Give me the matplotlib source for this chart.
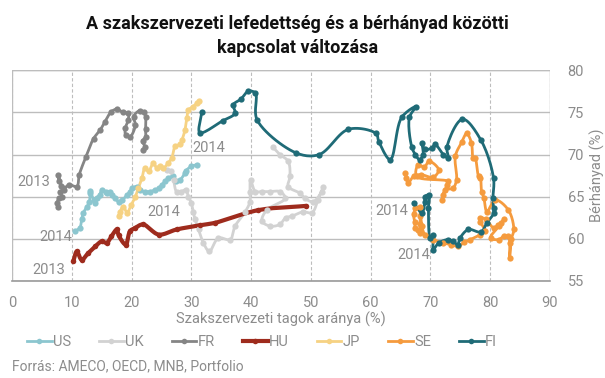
import numpy as np
import matplotlib
matplotlib.use("Agg")
import matplotlib.pyplot as plt
from matplotlib.lines import Line2D

plt.rcParams['font.family'] = ['Roboto', 'DejaVu Sans']

# --- data (x: union density %, y: wage share %) ---
us_x = [10.5, 11.3, 11.6, 11.9, 12.5, 12.9, 13.0, 13.0, 13.6, 13.9, 14.1, 14.6, 15.0, 15.6, 15.9, 16.4,
        16.7, 17.2, 17.8, 18.4, 19.2, 19.7, 20.0, 20.8, 21.3, 22.2, 23.0, 23.9, 24.5, 25.0, 25.6, 26.1,
        26.9, 27.4, 28.1, 28.9, 29.1, 30.0, 30.9]
us_y = [60.9, 61.3, 62.3, 63.1, 63.8, 64.4, 65.4, 65.7, 64.6, 64.2, 64.8, 65.2, 65.8, 65.6, 65.4, 65.6,
        65.2, 64.8, 64.4, 64.6, 65.2, 65.6, 66.0, 66.2, 65.8, 65.6, 65.6, 65.8, 66.0, 66.4, 66.8, 67.2,
        67.4, 66.8, 67.0, 67.8, 68.1, 68.6, 68.8]

uk_x = [43.6, 44.8, 46.2, 46.5, 46.2, 48.2, 49.0, 50.4, 51.8, 52.1, 51.2, 50.2, 48.7, 46.9, 45.8, 44.8,
        43.2, 41.8, 42.6, 45.7, 44.8, 43.2, 41.8, 40.7, 39.9, 39.8, 39.8, 39.0, 37.3, 36.5, 34.5, 33.0,
        32.0, 31.2, 30.6, 30.3, 30.0, 29.5, 29.0, 28.3, 27.5, 27.0, 26.5, 25.9]
uk_y = [70.9, 70.0, 69.2, 67.4, 66.2, 65.4, 64.8, 64.4, 65.6, 66.2, 64.6, 63.1, 63.2, 62.7, 62.5, 61.7,
        61.5, 62.1, 63.4, 64.8, 65.6, 65.6, 65.6, 65.6, 67.0, 65.6, 64.4, 63.2, 61.5, 59.9, 60.1, 58.5,
        59.5, 61.1, 62.3, 63.2, 64.2, 65.0, 65.8, 65.6, 65.6, 67.0, 68.0, 68.2]

fr_x = [7.6, 7.5, 7.8, 8.3, 8.0, 8.6, 8.2, 7.8, 7.7, 8.5, 9.5, 10.8, 11.2, 12.3, 13.6, 14.7, 15.5, 16.6,
        17.6, 18.5, 19.4, 19.4, 18.9, 19.0, 19.7, 20.6, 20.3, 21.3, 22.0, 22.3, 22.3, 22.3, 21.8, 22.2, 21.9]
fr_y = [63.8, 64.3, 64.8, 65.0, 65.5, 65.8, 66.3, 66.8, 67.6, 66.0, 66.4, 66.2, 67.6, 69.7, 71.9, 72.9,
        73.9, 75.1, 75.4, 75.0, 74.9, 74.1, 73.1, 72.3, 72.1, 73.5, 74.5, 75.2, 75.0, 74.5, 73.0, 72.1,
        71.6, 70.9, 70.5]

hu_x = [49.2, 41.2, 34.0, 31.4, 27.5, 24.5, 21.9, 20.6, 19.7, 19.0, 17.8, 17.5, 16.6, 15.8, 15.0, 13.9,
        12.7, 11.6, 10.8, 10.2]
hu_y = [63.9, 63.4, 61.9, 61.6, 61.1, 60.5, 61.7, 61.3, 60.9, 59.3, 60.4, 61.1, 60.3, 59.5, 59.7, 59.1,
        58.3, 57.5, 58.5, 57.3]

jp_x = [17.8, 18.0, 18.6, 19.2, 19.9, 20.6, 21.1, 21.7, 22.2, 22.8, 23.6, 24.2, 24.7, 25.3, 26.1, 26.7,
        27.3, 28.1, 28.4, 28.9, 29.2, 29.5, 30.3, 30.9, 31.2]
jp_y = [62.7, 63.2, 63.8, 63.1, 64.0, 65.0, 66.0, 67.2, 68.4, 68.0, 69.0, 68.4, 68.6, 68.4, 69.0, 69.6,
        71.0, 71.2, 71.7, 72.9, 74.3, 75.3, 75.7, 76.1, 76.3]

se_x = [67.5, 67.2, 67.4, 67.5, 68.0, 68.3, 68.3, 68.3, 68.3, 68.6, 69.1, 70.5, 72.2, 73.5, 74.7, 75.7,
        76.7, 78.4, 79.2, 78.4, 78.4, 79.3, 80.6, 81.3, 81.9, 82.3, 81.5, 80.1, 81.5, 82.3, 83.1, 83.3,
        83.3, 83.6, 84.0, 83.1, 80.9, 79.5, 79.0, 78.6, 78.4, 78.1, 77.5, 77.2, 76.9, 76.1, 75.3, 74.2,
        74.4, 73.8, 72.5, 72.0, 72.2, 72.8, 73.0, 67.7, 68.0, 69.0, 69.8, 71.4, 70.5, 68.5, 67.2, 66.3,
        66.0, 65.8]
se_y = [63.6, 62.9, 62.0, 61.3, 61.0, 60.7, 61.8, 62.7, 63.8, 61.5, 60.5, 59.9, 59.5, 59.3, 59.1, 59.6,
        59.9, 60.5, 60.9, 62.0, 62.5, 62.3, 61.3, 61.6, 61.9, 62.3, 61.5, 60.1, 59.9, 60.3, 60.3, 59.5,
        57.7, 60.0, 61.1, 63.4, 64.6, 63.2, 64.8, 65.6, 67.2, 67.4, 69.6, 69.6, 71.4, 72.5, 71.5, 69.8,
        67.0, 66.0, 65.8, 64.6, 65.2, 66.4, 66.8, 67.4, 68.8, 68.5, 69.2, 68.2, 67.3, 67.6, 67.4, 66.6,
        67.2, 67.8]

fi_x = [31.7, 31.4, 35.2, 37.3, 37.0, 38.3, 39.5, 40.7, 41.0, 47.5, 51.4, 56.3, 60.9, 61.4, 63.3, 65.2,
        67.6, 66.5, 66.9, 67.5, 68.2, 68.8, 68.6, 69.1, 70.3, 70.8, 72.2, 73.0, 72.8, 75.4, 78.5, 80.6,
        80.5, 80.6, 80.6, 79.5, 78.5, 76.4, 75.0, 74.6, 73.8, 73.0, 71.4, 70.5, 70.5, 70.0, 69.7, 69.8,
        69.1, 69.1, 68.6, 67.2]
fi_y = [75.0, 72.6, 74.0, 74.9, 75.9, 76.6, 77.5, 77.3, 74.1, 70.2, 70.0, 73.0, 72.5, 71.5, 69.4, 74.4,
        75.7, 74.4, 70.9, 70.0, 69.4, 70.0, 71.4, 70.6, 70.8, 71.2, 70.0, 69.6, 70.9, 74.2, 71.7, 67.2,
        64.8, 63.6, 63.0, 61.9, 60.8, 61.1, 60.1, 59.3, 59.7, 59.9, 59.5, 58.7, 60.5, 60.1, 63.6, 65.2,
        65.0, 64.4, 63.1, 64.3]

series = [
    ("US", us_x, us_y, "#8cc6cf", 2.0, 4.5),
    ("UK", uk_x, uk_y, "#d2d2d2", 2.0, 4.5),
    ("FR", fr_x, fr_y, "#858585", 2.0, 4.5),
    ("HU", hu_x, hu_y, "#9e2b1d", 3.0, 4.0),
    ("JP", jp_x, jp_y, "#f6d283", 2.0, 4.5),
    ("SE", se_x, se_y, "#f59b3e", 2.0, 4.5),
    ("FI", fi_x, fi_y, "#1f6b77", 2.0, 4.5),
]

year_labels = [
    ("2013", 3.6, 66.7), ("2014", 7.2, 60.2), ("2013", 6.1, 56.3), ("2014", 25.4, 63.2),
    ("2014", 32.9, 70.8), ("2014", 63.6, 63.3), ("2014", 67.3, 58.1),
]

YSCALE = 1.41  # px per y-unit vs px per x-unit


def smooth(xs, ys, n=14):
    """Centripetal Catmull-Rom curve through the points (like a smoothed line)."""
    p = np.column_stack([xs, np.array(ys) * YSCALE]).astype(float)
    if len(p) < 3:
        return np.array(xs), np.array(ys)
    p = np.vstack([2 * p[0] - p[1], p, 2 * p[-1] - p[-2]])
    out = []
    for i in range(1, len(p) - 2):
        p0, p1, p2, p3 = p[i - 1], p[i], p[i + 1], p[i + 2]
        t0 = 0.0
        t1 = t0 + max(np.linalg.norm(p1 - p0) ** 0.5, 1e-4)
        t2 = t1 + max(np.linalg.norm(p2 - p1) ** 0.5, 1e-4)
        t3 = t2 + max(np.linalg.norm(p3 - p2) ** 0.5, 1e-4)
        t = np.linspace(t1, t2, n)[:, None]
        a1 = (t1 - t) / (t1 - t0) * p0 + (t - t0) / (t1 - t0) * p1
        a2 = (t2 - t) / (t2 - t1) * p1 + (t - t1) / (t2 - t1) * p2
        a3 = (t3 - t) / (t3 - t2) * p2 + (t - t2) / (t3 - t2) * p3
        b1 = (t2 - t) / (t2 - t0) * a1 + (t - t0) / (t2 - t0) * a2
        b2 = (t3 - t) / (t3 - t1) * a2 + (t - t1) / (t3 - t1) * a3
        c = (t2 - t) / (t2 - t1) * b1 + (t - t1) / (t2 - t1) * b2
        out.append(c if i == 1 else c[1:])
    c = np.vstack(out)
    return c[:, 0], c[:, 1] / YSCALE


fig = plt.figure(figsize=(6.05, 3.78), dpi=100)
ax = fig.add_axes([0.0205, 0.257, 0.888, 0.557])

gray_txt = "#8c8c8c"

for name, xs, ys, col, lw, ms in series:
    sx, sy = smooth(xs, ys)
    ax.plot(sx, sy, color=col, lw=lw, solid_capstyle="round", zorder=3)
    ax.plot(xs, ys, "o", color=col, ms=ms, mew=0, zorder=4)

for txt, x, y in year_labels:
    ax.text(x, y, txt, color=gray_txt, fontsize=10.5, ha="center", va="center", zorder=5)

ax.set_xlim(0, 90)
ax.set_ylim(55, 80)
ax.set_xticks(np.arange(0, 91, 10))
ax.set_yticks(np.arange(55, 81, 5))
ax.yaxis.tick_right()
ax.yaxis.set_label_position("right")
ax.tick_params(length=0, labelsize=10.5, colors=gray_txt)
ax.tick_params(axis="x", pad=11)
ax.tick_params(axis="y", pad=13)

ax.grid(axis="y", color="#bdbdbd", lw=1.0, zorder=0)
ax.grid(axis="x", color="#bdbdbd", lw=0.8, ls=(0, (3, 2)), zorder=0)
for s in ["left", "top", "right"]:
    ax.spines[s].set_visible(False)
ax.spines["bottom"].set_color("#9a9a9a")
ax.spines["bottom"].set_linewidth(1.2)
ax.axvline(0, color="#bdbdbd", lw=1.0, zorder=0)
ax.axvline(90, color="#bdbdbd", lw=1.0, zorder=0)
ax.axhline(80, color="#bdbdbd", lw=1.0, zorder=0)

ax.set_xlabel("Szakszervezeti tagok aránya (%)", color=gray_txt, fontsize=10.5, labelpad=1)
ax.set_ylabel("Bérhányad (%)", color=gray_txt, fontsize=10.5, labelpad=4)

fig.text(0.492, 0.905, "A szakszervezeti lefedettség és a bérhányad közötti\nkapcsolat változása",
         ha="center", va="center", fontsize=13, fontweight="bold", color="#111111", linespacing=1.4)

handles = [Line2D([], [], color=c, lw=lw, marker="o", ms=4, mew=0) for _, _, _, c, lw, _ in series]
labels = [s[0] for s in series]
fig.legend(handles, labels, loc="center", bbox_to_anchor=(0.433, 0.095), ncol=7, frameon=False,
           fontsize=10.5, labelcolor=gray_txt, handlelength=1.7, handletextpad=0.1, columnspacing=1.9)

fig.text(0.02, 0.03, "Forrás: AMECO, OECD, MNB, Portfolio", color=gray_txt, fontsize=10, ha="left",
         va="center")

fig.savefig("out.png", dpi=100)
